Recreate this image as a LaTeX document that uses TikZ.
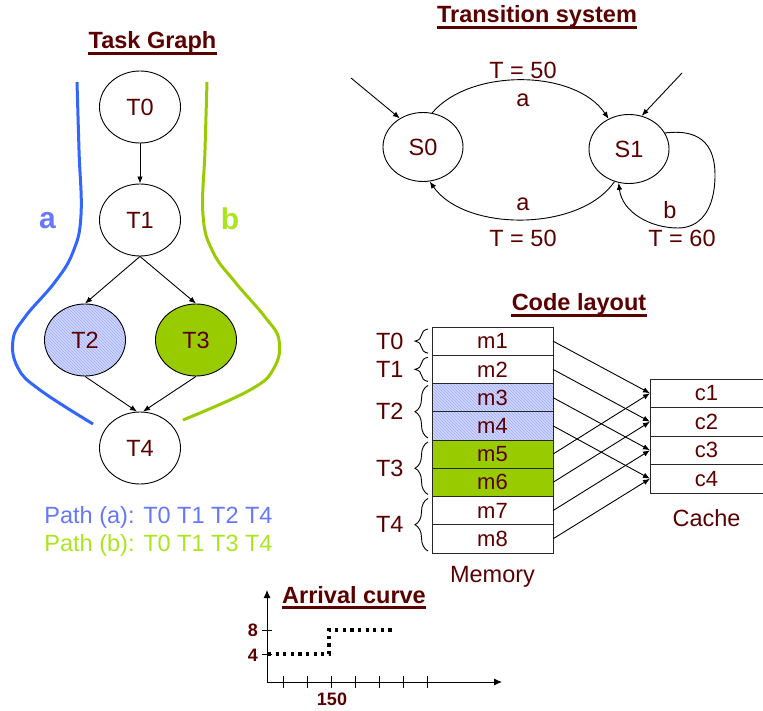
\documentclass[tikz,border=0pt]{standalone}
\usepackage{fontspec}
\setmainfont{Liberation Sans}
\usetikzlibrary{arrows.meta,positioning,shapes.geometric,patterns,decorations.pathreplacing}
\definecolor{txtred}{RGB}{90,0,0}
\definecolor{pathblue}{RGB}{51,102,255}
\definecolor{pathgreen}{RGB}{153,204,0}
\definecolor{lblblue}{RGB}{102,119,255}
\definecolor{lblgreen}{RGB}{170,230,30}
\definecolor{hatchblue}{RGB}{205,218,255}
\newcommand{\fsize}[1]{\fontsize{#1}{#1}\selectfont}

\begin{document}
\begin{tikzpicture}[
    x=1pt, y=1pt, line width=0.9pt,
    task/.style={draw, ellipse, minimum width=81pt, minimum height=72pt, inner sep=0pt, font=\fsize{23.5}, text=txtred},
    state/.style={draw, ellipse, minimum width=80pt, minimum height=69pt, inner sep=0pt, font=\fsize{23.5}, text=txtred},
    cell/.style={draw=black!85, minimum width=121pt, minimum height=28.25pt, inner sep=0pt, outer sep=0pt, font=\fsize{22}, text=txtred},
    cachecell/.style={cell, minimum width=113pt, minimum height=28.5pt},
    hatched/.style={preaction={fill=hatchblue}, pattern=north west lines, pattern color=blue!35},
    arrow/.style={-{Latex[length=7pt,width=5.5pt]}},
    title/.style={font=\bfseries\fsize{23.5}, text=txtred, inner sep=0pt, anchor=base},
    uline/.style={txtred, line width=3pt},
    lbl/.style={font=\fsize{23.5}, text=txtred, inner sep=0pt},
    numlbl/.style={font=\bfseries\fsize{18}, text=txtred, inner sep=0pt},
    tbrace/.style={decorate, decoration={brace, amplitude=13pt}},
    pathline/.style={line width=3pt},
    axisline/.style={-{Latex[length=8pt,width=7pt]}},
    stepline/.style={line width=3.2pt, dash pattern=on 3.2pt off 4.4pt}
  ]
    \useasboundingbox (0,0) rectangle (763,-711);

    % task graph
    \node[title] (tgtitle) at (152.5,-49) {Task Graph};
    \draw[uline] ([yshift=-4.5pt]tgtitle.base west) -- ([yshift=-4.5pt]tgtitle.base east);
    \node[task] (t0) at (140,-107) {T0};
    \node[task] (t1) at (140,-220) {T1};
    \node[task, hatched] (t2) at (85,-340) {T2};
    \node[task, fill=pathgreen] (t3) at (196,-340) {T3};
    \node[task] (t4) at (140,-448) {T4};
    \draw[arrow] (t0) -- (t1);
    \draw[arrow] (t1.south) -- (t2.north);
    \draw[arrow] (t1.south) -- (t3.north);
    \draw[arrow] (t2.south) -- ([xshift=-3pt]t4.north);
    \draw[arrow] (t3.south) -- ([xshift=3pt]t4.north);
    \draw[pathline, pathblue] plot[smooth, tension=0.7] coordinates {(77,-82) (79,-150) (81,-215) (73,-252) (55,-282) (25,-317) (13,-340) (18,-368) (40,-390) (93,-424)};
    \draw[pathline, pathgreen] plot[smooth, tension=0.7] coordinates {(207,-82) (205,-150) (203,-215) (213,-252) (235,-282) (265,-317) (279,-340) (274,-368) (250,-390) (183,-420)};
    \node[font=\bfseries\fsize{30}, text=lblblue] (lbla) at (47.5,-221) {a};
    \node[font=\bfseries\fsize{30}, text=lblgreen] (lblb) at (230,-219) {b};
    \node[lbl, text=lblblue] (patha) at (158.5,-517) {Path (a): T0 T1 T2 T4};
    \node[lbl, text=lblgreen] (pathb) at (158.5,-545) {Path (b): T0 T1 T3 T4};

    % transition system
    \node[title] (tstitle) at (537,-23) {Transition system};
    \draw[uline] ([yshift=-4.5pt]tstitle.base west) -- ([yshift=-4.5pt]tstitle.base east);
    \node[state] (s0) at (423,-147) {S0};
    \node[state] (s1) at (629,-149) {S1};
    \coordinate (init0) at (351,-78);
    \coordinate (init1) at (682,-73);
    \draw[arrow] (init0) -- (s0.129);
    \draw[arrow] (init1) -- (s1.69);
    \draw[arrow] (s0.75) .. controls (470,-68) and (575,-69) .. (s1.124);
    \draw[arrow] (s1.246) .. controls (580,-232) and (465,-232) .. (s0.281);
    \draw[arrow] (s1.24) .. controls (705,-128) and (715,-150) .. (715,-175)
      .. controls (715,-210) and (700,-228) .. (678,-228)
      .. controls (650,-228) and (622,-212) .. (s1.253);
    \node[lbl] (w01) at (523,-70) {T = 50};
    \node[lbl] (a01) at (523,-100) {a};
    \node[lbl] (a10) at (523,-204) {a};
    \node[lbl] (w10) at (523,-238) {T = 50};
    \node[lbl] (b11) at (670,-210) {b};
    \node[lbl] (w11) at (682,-238) {T = 60};

    % code layout
    \node[title] (cltitle) at (579,-311) {Code layout};
    \draw[uline] ([yshift=-4.5pt]cltitle.base west) -- ([yshift=-4.5pt]cltitle.base east);
    \node[cell] (m1) at (492.5,-341.1) {m1};
    \node[cell, below=0pt of m1] (m2) {m2};
    \node[cell, hatched, below=0pt of m2] (m3) {m3};
    \node[cell, hatched, below=0pt of m3] (m4) {m4};
    \node[cell, fill=pathgreen, below=0pt of m4] (m5) {m5};
    \node[cell, fill=pathgreen, below=0pt of m5] (m6) {m6};
    \node[cell, below=0pt of m6] (m7) {m7};
    \node[cell, below=0pt of m7] (m8) {m8};
    \node[lbl, below=13pt of m8] (mem) {Memory};
    \node[cachecell] (c1) at (706.5,-393.25) {c1};
    \node[cachecell, below=0pt of c1] (c2) {c2};
    \node[cachecell, below=0pt of c2] (c3) {c3};
    \node[cachecell, below=0pt of c3] (c4) {c4};
    \node[lbl, below=16pt of c4] (cache) {Cache};
    \draw[tbrace] ([shift={(-4pt,2pt)}]m1.south west) -- ([shift={(-4pt,-2pt)}]m1.north west)
      node[lbl, midway, left=24pt] (bt0) {T0};
    \draw[tbrace] ([shift={(-4pt,2pt)}]m2.south west) -- ([shift={(-4pt,-2pt)}]m2.north west)
      node[lbl, midway, left=24pt] (bt1) {T1};
    \draw[tbrace] ([shift={(-4pt,2pt)}]m4.south west) -- ([shift={(-4pt,-2pt)}]m3.north west)
      node[lbl, midway, left=24pt] (bt2) {T2};
    \draw[tbrace] ([shift={(-4pt,2pt)}]m6.south west) -- ([shift={(-4pt,-2pt)}]m5.north west)
      node[lbl, midway, left=24pt] (bt3) {T3};
    \draw[tbrace] ([shift={(-4pt,2pt)}]m8.south west) -- ([shift={(-4pt,-2pt)}]m7.north west)
      node[lbl, midway, left=24pt] (bt4) {T4};
    \draw[arrow] (m1.east) -- (c1.west);
    \draw[arrow] (m2.east) -- (c2.west);
    \draw[arrow] (m3.east) -- (c3.west);
    \draw[arrow] (m4.east) -- (c4.west);
    \draw[arrow] (m5.east) -- (c1.west);
    \draw[arrow] (m6.east) -- (c2.west);
    \draw[arrow] (m7.east) -- (c3.west);
    \draw[arrow] (m8.east) -- (c4.west);

    % arrival curve
    \node[title] (actitle) at (354,-603) {Arrival curve};
    \draw[uline] ([yshift=-4.5pt]actitle.base west) -- ([yshift=-4.5pt]actitle.base east);
    \coordinate (origin) at (267,-682);
    \draw[axisline] (origin) -- (267,-590);
    \draw[axisline] (origin) -- (502,-682);
    \draw (283,-676) -- (283,-688) (307,-676) -- (307,-688) (331,-676) -- (331,-688)
      (355,-676) -- (355,-688) (379,-676) -- (379,-688) (403,-676) -- (403,-688)
      (427,-676) -- (427,-688);
    \draw (262,-630) -- (272,-630) (262,-654) -- (272,-654);
    \node[numlbl] (y8) at (253,-630) {8};
    \node[numlbl] (y4) at (253,-655) {4};
    \node[numlbl] (x150) at (332,-699) {150};
    \draw[stepline] (268,-654) -- (329,-654) -- (329,-630) -- (392,-630);
  \end{tikzpicture}
\end{document}
